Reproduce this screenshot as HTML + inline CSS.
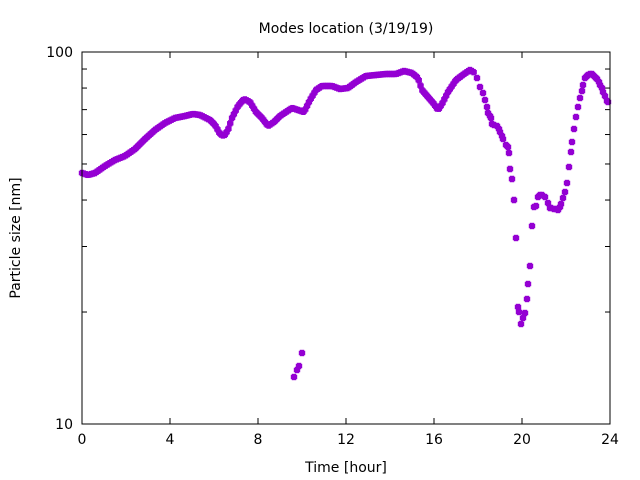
<!DOCTYPE html>
<html><head><meta charset="utf-8"><style>body{margin:0;background:#fff}svg{display:block}text{font-family:"DejaVu Sans","Liberation Sans",sans-serif;font-size:14px;fill:#000}</style></head>
<body><svg id="s" width="640" height="480" xmlns="http://www.w3.org/2000/svg">
<rect width="640" height="480" fill="#fff"/>
<text x="346" y="33" text-anchor="middle">Modes location (3/19/19)</text>
<text x="346" y="472" text-anchor="middle">Time [hour]</text>
<text transform="translate(20,238) rotate(-90)" text-anchor="middle">Particle size [nm]</text>
<g id="ax" stroke="#000" stroke-width="1" fill="none"></g>
<g id="pts" fill="#9400d3"></g>
<rect x="82" y="52" width="528" height="372" fill="none" stroke="#000" stroke-width="1"/>
</svg>
<script>
var NS="http://www.w3.org/2000/svg",s=document.getElementById('s'),ax=document.getElementById('ax'),P=document.getElementById('pts');
function el(t,a,p,txt){var e=document.createElementNS(NS,t);for(var k in a)e.setAttribute(k,a[k]);if(txt)e.textContent=txt;(p||s).appendChild(e);return e;}
for(var h=0;h<=24;h+=4){var x=82+22*h;el('line',{x1:x,y1:424,x2:x,y2:418},ax);el('line',{x1:x,y1:52,x2:x,y2:58},ax);el('text',{x:x,y:444,'text-anchor':'middle'},null,''+h);}
for(var v=10;v<=100;v+=10){var y=424-372*Math.log10(v/10),L=(v==10||v==100)?9:5;el('line',{x1:82,y1:y,x2:82+L,y2:y},ax);el('line',{x1:610,y1:y,x2:610-L,y2:y},ax);}
el('text',{x:73,y:429,'text-anchor':'end'},null,'10');el('text',{x:73,y:57,'text-anchor':'end'},null,'100');
var K=[[82,173],[88,175],[95,173],[105,166],[115,160],[125,156],[135,149],[145,139],[155,130],[165,123],[175,118],[185,116],[193,114],[200,115],[210,120],[215,125],[220,134],[224,136],[228,130],[232,118],[238,106],[244,99],[250,102],[256,112],[262,118],[268,126],[274,122],[280,116],[286,112],[292,108],[298,110],[304,112],[310,100],[316,90],[322,86],[332,86],[340,89],[348,88],[356,82],[366,76],[376,75],[386,74],[396,74],[404,71],[412,73],[418,78],[422,90],[428,97],[434,104],[438,110],[442,104],[448,92],[456,80],[464,74],[470,70],[475,73]];
function dot(x,y){var w=2.2;el('path',{d:'M'+(x-w)+' '+(y-3.2)+'h'+(2*w)+'v6.4h'+(-2*w)+'z'},P);el('path',{d:'M'+(x-3.2)+' '+(y-w)+'h6.4v'+(2*w)+'h-6.4z'},P);}
var st=1.83;for(var x=82;x<=475;x+=st){for(var i=0;i<K.length-1;i++)if(x>=K[i][0]&&x<=K[i+1][0]){var t=(x-K[i][0])/(K[i+1][0]-K[i][0]);dot(x,K[i][1]+t*(K[i+1][1]-K[i][1]));break;}}
var D=[[477,78],[480,87],[483,93],[485,100],[487,107],[488,113],[490,116],[491,118],[492,124],[494,125],[497,126],[499,129],[500,132],[502,136],[503,139],[506,145],[508,147],[509,153],[510,169],[512,179],[514,200],[516,238],[518,307],[519,312],[521,324],[523,318],[525,313],[527,299],[528,284],[530,266],[532,226],[534,207],[536,206],[538,197],[540,195],[542,195],[545,197],[548,203],[550,208],[551,208],[554,209],[556,209],[558,210],[560,207],[561,204],[563,198],[565,192],[567,183],[569,167],[571,152],[572,142],[574,129],[576,117],[578,107],[580,98],[582,91],[583,85],[585,78],[587,76],[588,75],[590,74],[592,74],[594,76],[596,78],[597,79],[599,82],[600,85],[602,88],[603,92],[605,96],[607,101],[608,102],[294,377],[297,370],[299,366],[302,353]];
D.forEach(function(p){dot(p[0],p[1]);});
</script></body></html>
